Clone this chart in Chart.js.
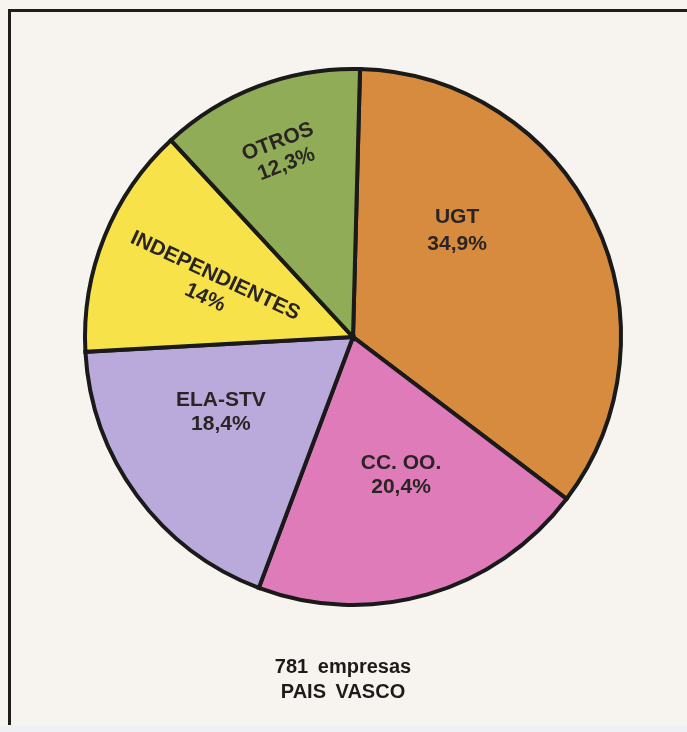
<!DOCTYPE html>
<html>
<head>
<meta charset="utf-8">
<script src="https://cdn.jsdelivr.net/npm/chart.js@4.4.1/dist/chart.umd.min.js"></script>
<style>
  html, body { margin: 0; padding: 0; width: 687px; height: 732px; overflow: hidden; background: #f7f4ef; }
  #frame { position: absolute; left: 8px; top: 9px; width: 700px; height: 716px; border-left: 3px solid #1d1d1d; border-top: 3px solid #1d1d1d; box-sizing: border-box; }
  #strip { position: absolute; left: 0; top: 725px; width: 687px; height: 7px; background: #eef1f3; }
  #wrap { position: absolute; left: 0; top: 0; width: 687px; height: 732px; }
</style>
</head>
<body>
<div id="frame"></div>
<div id="strip"></div>
<div id="wrap"><canvas id="c" width="687" height="732"></canvas></div>
<script>
// ---- data ----
const categories = ['UGT', 'CC. OO.', 'ELA-STV', 'INDEPENDIENTES', 'OTROS'];
const percentages = [34.9, 20.4, 18.4, 14, 12.3];
const percentLabels = ['34,9%', '20,4%', '18,4%', '14%', '12,3%'];
const footerLines = ['781 empresas', 'PAIS VASCO'];

// ---- styles ----
const sliceColors = ['#d78b3e', '#e07bba', '#b9aadb', '#f8e24a', '#90ac57'];
// label placement: [screen angle deg, radius fraction, text rotation deg]
const labelPlacement = [
  [-45.5, 0.554, 0],
  [70.8, 0.545, 0],
  [150.4, 0.567, 0],
  [-160.7, 0.565, 25],
  [-111.1, 0.735, -21]
];

const labelPlugin = {
  id: 'sliceLabels',
  afterDatasetsDraw(chart) {
    const ctx = chart.ctx;
    const arcs = chart.getDatasetMeta(0).data;
    ctx.save();
    ctx.fillStyle = '#2a2424';
    ctx.font = 'bold 21px "Liberation Sans", Arial, sans-serif';
    ctx.textAlign = 'center';
    ctx.textBaseline = 'middle';
    arcs.forEach((arc, i) => {
      const [angDeg, frac, rotDeg] = labelPlacement[i];
      const a = angDeg * Math.PI / 180;
      const r = arc.outerRadius * frac;
      const x = arc.x + Math.cos(a) * r;
      const y = arc.y + Math.sin(a) * r;
      ctx.save();
      ctx.translate(x, y);
      ctx.rotate(rotDeg * Math.PI / 180);
      const gap = (i === 0) ? 27 : 24;
      ctx.fillText(categories[i], 0, -gap / 2);
      ctx.fillText(percentLabels[i], 0, gap / 2);
      ctx.restore();
    });
    // footer
    const cx = chart.chartArea.left + (chart.chartArea.right - chart.chartArea.left) / 2;
    ctx.fillStyle = '#1e1a1a';
    ctx.font = 'bold 20px "Liberation Sans", Arial, sans-serif';
    try { ctx.wordSpacing = '4px'; } catch (e) {}
    ctx.fillText(footerLines[0], cx - 10, 667);
    ctx.fillText(footerLines[1], cx - 10, 692);
    ctx.restore();
  }
};

new Chart(document.getElementById('c'), {
  type: 'pie',
  data: {
    labels: categories,
    datasets: [{
      data: percentages,
      backgroundColor: sliceColors,
      borderColor: '#1a1a1a',
      borderWidth: 4,
      borderAlign: 'center',
      borderJoinStyle: 'miter'
    }]
  },
  options: {
    responsive: false,
    animation: false,
    rotation: 1.5,
    layout: { padding: { left: 83, right: 64, top: 67, bottom: 125 } },
    plugins: {
      legend: { display: false },
      tooltip: { enabled: false }
    }
  },
  plugins: [labelPlugin]
});
</script>
</body>
</html>
